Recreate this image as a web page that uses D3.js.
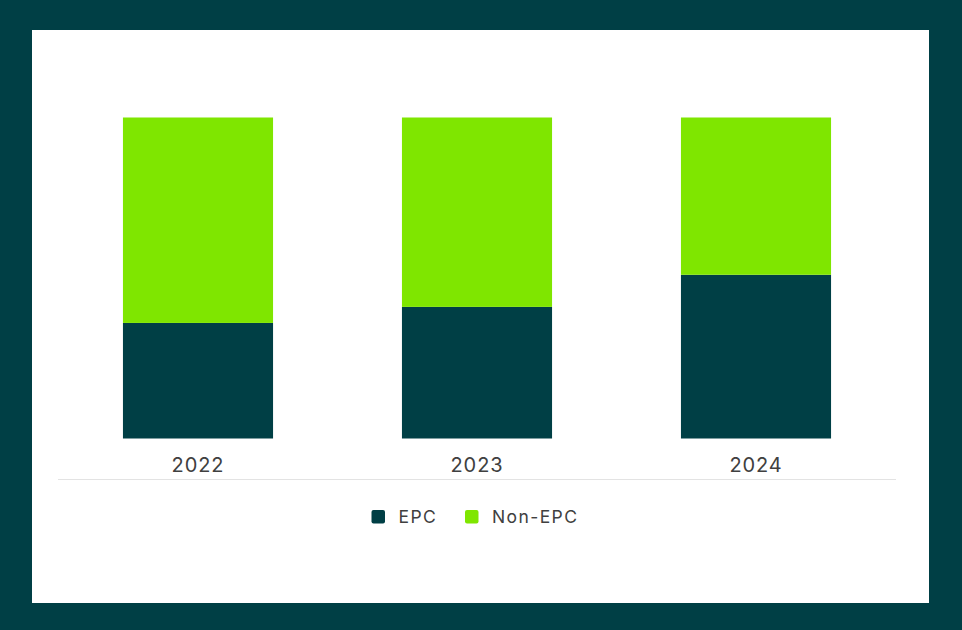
<!DOCTYPE html>
<html>
<head>
<meta charset="utf-8">
<script src="https://cdn.jsdelivr.net/npm/d3@7"></script>
<style>
  html, body { margin: 0; padding: 0; background: #003f45; }
  svg { display: block; font-family: Inter, 'Noto Sans', sans-serif; }
</style>
</head>
<body>
<div id="chart"></div>
<script>
const years = ['2022', '2023', '2024'];
const epc = [36, 41, 51];
const nonEpc = [64, 59, 49];
const seriesNames = ['EPC', 'Non-EPC'];
const seriesColors = ['#003f45', '#7fe600'];

const width = 962,
  height = 630;

const svg = d3.select('#chart').append('svg').attr('width', width).attr('height', height);

// dark frame + white panel
svg.append('rect').attr('width', width).attr('height', height).attr('fill', '#003f45');
svg.append('rect').attr('x', 32).attr('y', 30).attr('width', 897).attr('height', 573).attr('fill', '#fff');

const rows = years.map((y, i) => ({ year: y, EPC: epc[i], 'Non-EPC': nonEpc[i] }));
const stacked = d3.stack().keys(seriesNames)(rows);

const x = d3.scaleBand().domain(years).range([58.5, 895.5]).paddingInner(0.462).paddingOuter(0.231);
const y = d3.scaleLinear().domain([0, 100]).range([438.5, 117.5]);
const color = d3.scaleOrdinal().domain(seriesNames).range(seriesColors);

svg
  .append('g')
  .selectAll('g')
  .data(stacked)
  .join('g')
  .attr('fill', (d) => color(d.key))
  .selectAll('rect')
  .data((d) => d)
  .join('rect')
  .attr('x', (d) => x(d.data.year))
  .attr('y', (d) => y(d[1]))
  .attr('width', x.bandwidth())
  .attr('height', (d) => y(d[0]) - y(d[1]));

// x axis: labels only + baseline further down
const axis = svg
  .append('g')
  .attr('transform', 'translate(0,438.5)')
  .call(d3.axisBottom(x).tickSize(0).tickPadding(19));
axis.select('.domain').remove();
axis
  .selectAll('text')
  .attr('font-size', 20)
  .attr('fill', '#404040')
  .attr('letter-spacing', 0.9)
  .style('font-family', 'Inter, sans-serif');

svg
  .append('line')
  .attr('x1', 58)
  .attr('x2', 896)
  .attr('y1', 479.5)
  .attr('y2', 479.5)
  .attr('stroke', '#e3e3e3')
  .attr('stroke-width', 1);

// legend
const legendX = [371.5, 465];
const legend = svg
  .append('g')
  .selectAll('g')
  .data(seriesNames)
  .join('g')
  .attr('transform', (d, i) => `translate(${legendX[i]},510)`);

legend
  .append('rect')
  .attr('width', 13.5)
  .attr('height', 13.5)
  .attr('rx', 2)
  .attr('fill', (d) => color(d));

legend
  .append('text')
  .attr('x', 27)
  .attr('y', 13.3)
  .attr('font-size', 17.5)
  .attr('letter-spacing', 1.4)
  .attr('fill', '#404040')
  .text((d) => d);
</script>
</body>
</html>
